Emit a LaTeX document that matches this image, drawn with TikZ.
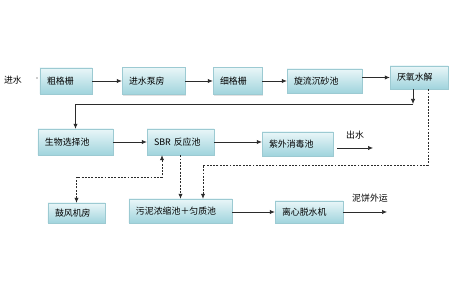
\documentclass[tikz,border=0pt]{standalone}
\usepackage{fontspec}
\newfontfamily\cjk{Noto Sans CJK SC}
\usetikzlibrary{arrows.meta,calc,shadows}
\definecolor{boxtop}{HTML}{E9F6F8}
\definecolor{boxbot}{HTML}{A0D4DD}
\definecolor{boxline}{HTML}{9CCAD2}
\definecolor{linegray}{HTML}{2B2B2B}
\tikzset{
  >={Latex[length=1.5mm,width=1.3mm]},
  % Kästen
  bx/.style={draw=boxline,line width=0.4pt,top color=boxtop,bottom color=boxbot,
             drop shadow={shadow xshift=1.2pt,shadow yshift=-1.2pt,fill=black!22},
             inner xsep=0.21cm,inner ysep=0pt,align=left,
             font=\cjk\fontsize{7.6}{9}\selectfont},
  lbl/.style={font=\cjk\fontsize{7.6}{9}\selectfont,inner sep=1pt},
  % Linien
  flow/.style={->,draw=linegray,line width=0.6pt},
  dsh/.style={->,draw=linegray,line width=0.6pt,dash pattern=on 1.6pt off 1.2pt},
}
\begin{document}
\begin{tikzpicture}[x=0.03cm,y=-0.03cm]
  \useasboundingbox[fill=white] (0,0) rectangle (450,291);
  % Zeile 1
  \node[lbl] (in) at (13,80) {进水};
  \fill[linegray] (37,78) circle (0.6);
  \node[bx,text width=1.14cm,minimum height=0.78cm] (cgs) at (66,81) {粗格栅};
  \node[bx,text width=1.47cm,minimum height=0.81cm] (jsbf) at (153.5,81) {进水泵房};
  \node[bx,text width=1.05cm,minimum height=0.81cm] (xgs) at (237.5,81) {细格栅};
  \node[bx,text width=1.83cm,minimum height=0.72cm] (xlcs) at (324.5,81) {旋流沉砂池};
  \node[bx,text width=1.32cm,minimum height=0.69cm] (yy) at (419,77.5) {厌氧水解};
  \draw[flow] (cgs) -- (jsbf);
  \draw[flow] (jsbf) -- (xgs);
  \draw[flow] (xgs) -- (xlcs);
  \draw[flow] (xlcs.east |- yy) -- (yy.west);
  % Zeile 2
  \node[bx,text width=1.83cm,minimum height=0.78cm] (swxz) at (75.5,142) {生物选择池};
  \node[bx,text width=1.59cm,minimum height=0.78cm] (sbr) at (180.5,142) {SBR 反应池};
  \node[bx,text width=1.71cm,minimum height=0.72cm] (zw) at (297.5,144) {紫外消毒池};
  \node[lbl] (out) at (355,135) {出水};
  \coordinate (tr) at (413,104);
  \coordinate (outend) at (373,148);
  \draw[flow] ($(yy.south)+(-6,0)$) -- (tr);
  \draw[flow] (tr) -| (swxz);
  \draw[flow] (swxz) -- (sbr);
  \draw[flow] (sbr.east) -- (sbr.east -| zw.west);
  \draw[flow] ($(zw.east)+(4,4)$) -- (outend);
  % Zeile 3
  \node[bx,text width=1.29cm,minimum height=0.6cm] (gf) at (76.5,213) {鼓风机房};
  \node[bx,text width=2.67cm,minimum height=0.72cm] (wn) at (180.5,211) {污泥浓缩池＋匀质池};
  \node[bx,text width=1.62cm,minimum height=0.66cm] (lx) at (309,212) {离心脱水机};
  \node[lbl] (nb) at (370,198) {泥饼外运};
  \coordinate (nbend) at (387,212);
  \coordinate (bl) at (162,177);
  \coordinate (sl) at (203,165);
  \draw[dsh,<->] (gf.north) |- (bl) -- (bl |- sbr.south);
  \draw[dsh] (sbr) -- (wn);
  \draw[dsh] ($(yy.south)+(9,0)$) |- (sl) -- (sl |- wn.north);
  \draw[flow] (wn.east |- lx) -- (lx);
  \draw[flow] (lx) -- (nbend);
\end{tikzpicture}
\end{document}
